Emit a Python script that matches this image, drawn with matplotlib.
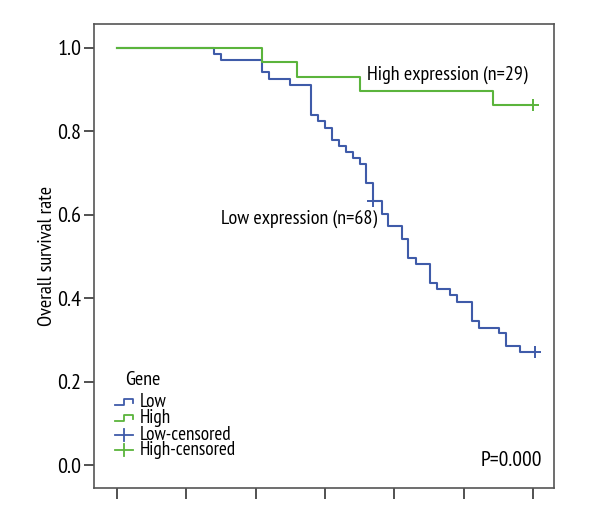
import matplotlib
matplotlib.use("Agg")
import matplotlib.pyplot as plt
from matplotlib import font_manager as fm

# pick a condensed sans that is close to the SPSS output font
have = set(f.name for f in fm.fontManager.ttflist)
wanted = ['PT Sans Narrow', 'Roboto Condensed', 'Fira Sans Condensed', 'Open Sans Condensed',
          'Archivo Narrow', 'Liberation Sans Narrow', 'Encode Sans Condensed', 'Asap Condensed']
fams = [f for f in wanted if f in have] + ['DejaVu Sans']
plt.rcParams['font.family'] = fams

# Kaplan-Meier steps (time in months, survival)
low_t = [0, 28, 30, 42, 44, 50, 56, 58, 60, 62, 64, 66, 68, 70, 72, 74, 76.4, 78.3,
         82.2, 84.1, 86.3, 90.3, 92.3, 96.1, 98.2, 102.4, 104.5, 110.3, 112.3, 116.3, 120.5]
low_s = [1.0, 0.985, 0.971, 0.941, 0.926, 0.912, 0.838, 0.824, 0.809, 0.779, 0.765,
         0.750, 0.735, 0.721, 0.676, 0.632, 0.603, 0.574, 0.543, 0.497, 0.483, 0.437,
         0.423, 0.407, 0.392, 0.345, 0.330, 0.316, 0.286, 0.271, 0.271]
low_cens_t = [74, 120.5]
low_cens_s = [0.632, 0.271]

high_t = [0, 42, 52, 70, 108.4, 120]
high_s = [1.0, 0.966, 0.931, 0.897, 0.862, 0.862]
high_cens_t = [120]
high_cens_s = [0.862]

groups = ['Low', 'High']
blue = '#3f5ba9'
green = '#5bb43c'
fs = 14.5

fig = plt.figure(figsize=(6, 5.2), dpi=100)
ax = fig.add_axes([94/600, 1-488/520, 460/600, 464/520])


def px(x, y):
    # pixel position in the figure -> axes fraction
    return (x - 94) / 460, (488 - y) / 464


ax.step(low_t, low_s, where='post', color=blue, lw=1.5)
ax.step(high_t, high_s, where='post', color=green, lw=1.5)
ax.plot(low_cens_t, low_cens_s, '+', color=blue, ms=8, mew=1.4)
ax.plot(high_cens_t, high_cens_s, '+', color=green, ms=8, mew=1.4)

ax.set_xlim(-6.6, 126.1)
ax.set_ylim(-0.054, 1.057)
ax.set_xticks([0, 20, 40, 60, 80, 100, 120])
ax.set_xticklabels([])
ax.set_yticks([0.0, 0.2, 0.4, 0.6, 0.8, 1.0])
ax.set_yticklabels(['0.0', '0.2', '0.4', '0.6', '0.8', '1.0'], fontsize=16)
ax.tick_params(axis='x', length=8, width=1.2, color='#333333')
ax.tick_params(axis='y', length=7, width=1.2, color='#333333', pad=2)
for sp in ax.spines.values():
    sp.set_color('#555555')
    sp.set_linewidth(1.2)
ax.set_ylabel('Overall survival rate', fontsize=fs, labelpad=1)

ax.text(*px(367, 75), 'High expression (n=29)', transform=ax.transAxes, fontsize=fs, va='center')
ax.text(*px(377, 219), 'Low expression (n=68)', transform=ax.transAxes, fontsize=fs,
        va='center', ha='right')
ax.text(*px(542, 460), 'P=0.000', transform=ax.transAxes, fontsize=15.5, va='center', ha='right')

# legend drawn by hand so the rows sit as close as in the SPSS output
ax.text(*px(125, 380), 'Gene', transform=ax.transAxes, fontsize=fs, va='center')
rows = [402, 418, 435, 450]
labels = groups + [g + '-censored' for g in groups]
colors = [blue, green, blue, green]
for i, (lab, c, y) in enumerate(zip(labels, colors, rows)):
    if i < 2:
        xs = [115, 124, 124, 133, 133]
        ys = [y + 3, y + 3, y - 3, y - 3, y + 1]
    else:
        xs = [115, 133]
        ys = [y, y]
        cx, cy = zip(px(124, y - 6), px(124, y + 6))
        ax.plot(cx, cy, color=c, lw=1.3, transform=ax.transAxes, clip_on=False)
    pts = [px(a, b) for a, b in zip(xs, ys)]
    ax.plot([p[0] for p in pts], [p[1] for p in pts], color=c, lw=1.3,
            transform=ax.transAxes, clip_on=False)
    ax.text(*px(140, y), lab, transform=ax.transAxes, fontsize=13.8, va='center')

fig.savefig('out.png', dpi=100)
